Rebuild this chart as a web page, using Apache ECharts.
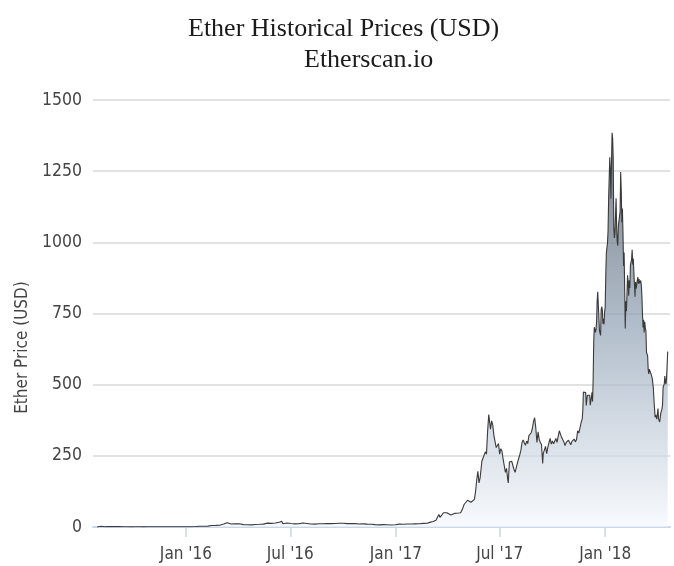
<!DOCTYPE html>
<html>
<head>
<meta charset="utf-8">
<script src="https://cdn.jsdelivr.net/npm/echarts@6/dist/echarts.min.js"></script>
<style>
html,body{margin:0;padding:0;background:#fff;}
#chart{width:674px;height:566px;}
</style>
</head>
<body>
<div id="chart"></div>
<script>
// ---- data ----
var titleText = 'Ether Historical Prices (USD)';
var subtitleText = 'Etherscan.io';
var yAxisName = 'Ether Price (USD)';
var yTicks = [0, 250, 500, 750, 1000, 1250, 1500];
var tickDates = ['2016-01-01', '2016-07-01', '2017-01-01', '2017-07-01', '2018-01-01'];
var tickLabels = ["Jan '16", "Jul '16", "Jan '17", "Jul '17", "Jan '18"];

var dates2015 = ['2015-07-30','2015-08-07','2015-08-09','2015-08-12','2015-08-17','2015-08-20','2015-08-24','2015-08-31','2015-09-07','2015-09-14','2015-09-21','2015-09-28','2015-10-05','2015-10-12','2015-10-19','2015-10-26','2015-11-02','2015-11-09','2015-11-16','2015-11-23','2015-11-30','2015-12-07','2015-12-14','2015-12-21','2015-12-28'];
var prices2015 = [0,2.77,0.75,1.07,1.58,1.44,1.24,1.35,1.26,0.95,0.90,0.59,0.62,0.63,0.48,0.86,1.00,0.99,0.94,0.97,0.87,0.82,0.91,0.86,0.85];

var dates2016 = ['2016-01-04','2016-01-11','2016-01-18','2016-01-25','2016-02-01','2016-02-08','2016-02-15','2016-02-22','2016-02-29','2016-03-07','2016-03-13','2016-03-20','2016-03-27','2016-04-03','2016-04-10','2016-04-17','2016-04-24','2016-05-01','2016-05-08','2016-05-15','2016-05-22','2016-05-29','2016-06-05','2016-06-12','2016-06-16','2016-06-18','2016-06-25','2016-07-02','2016-07-09','2016-07-16','2016-07-23','2016-07-30','2016-08-06','2016-08-13','2016-08-20','2016-08-27','2016-09-03','2016-09-10','2016-09-17','2016-09-24','2016-10-01','2016-10-08','2016-10-15','2016-10-22','2016-10-29','2016-11-05','2016-11-12','2016-11-19','2016-11-26','2016-12-03','2016-12-10','2016-12-17','2016-12-24','2016-12-31'];
var prices2016 = [0.95,1.07,1.5,2.4,2.4,3.2,5.2,5.6,6.4,10.5,15.1,10.5,11.0,11.4,8.4,8.1,7.5,8.7,9.4,10.2,13.5,12.6,13.9,16.7,20.6,11.3,13.9,12.1,10.9,11.3,14.2,12.5,10.8,10.0,11.2,11.5,11.9,12.0,12.5,13.0,13.2,12.0,11.9,11.9,10.8,11.0,10.0,9.7,8.5,7.6,8.2,7.8,7.2,8.0];

var dates2017a = ['2017-01-07','2017-01-14','2017-01-21','2017-01-28','2017-02-04','2017-02-11','2017-02-18','2017-02-25','2017-03-01','2017-03-04','2017-03-07','2017-03-10','2017-03-12','2017-03-14','2017-03-17','2017-03-19','2017-03-22','2017-03-25','2017-03-28','2017-03-31','2017-04-03','2017-04-07','2017-04-10','2017-04-14','2017-04-17','2017-04-20','2017-04-24','2017-04-27','2017-04-30','2017-05-03','2017-05-06','2017-05-09','2017-05-12','2017-05-15','2017-05-18','2017-05-20','2017-05-22','2017-05-24','2017-05-26','2017-05-28','2017-05-31','2017-06-03','2017-06-06','2017-06-08','2017-06-10','2017-06-12','2017-06-13','2017-06-15','2017-06-17','2017-06-19','2017-06-21','2017-06-23','2017-06-25','2017-06-27','2017-06-29'];
var prices2017a = [10.2,9.8,10.8,10.6,11.1,11.4,12.8,13.4,16.2,19.0,19.2,19.2,23.6,28.7,44,34,41.6,50,48,50,44,42.3,43.5,48,48,49,50,62,79,80,94,88,87,91,97,124,165,196,155,173,231,225,264,256,336,395,388,344,373,358,321,326,279,286,293];

var dates2017b = ['2017-07-01','2017-07-03','2017-07-05','2017-07-07','2017-07-09','2017-07-11','2017-07-13','2017-07-15','2017-07-16','2017-07-18','2017-07-20','2017-07-22','2017-07-24','2017-07-26','2017-07-28','2017-07-30','2017-08-01','2017-08-03','2017-08-05','2017-08-07','2017-08-09','2017-08-11','2017-08-13','2017-08-15','2017-08-17','2017-08-19','2017-08-21','2017-08-23','2017-08-25','2017-08-27','2017-08-29','2017-08-31','2017-09-01','2017-09-02','2017-09-04','2017-09-06','2017-09-08','2017-09-10','2017-09-12','2017-09-14','2017-09-15','2017-09-17','2017-09-19','2017-09-21','2017-09-23','2017-09-25','2017-09-27','2017-09-29','2017-10-01','2017-10-03','2017-10-05','2017-10-07','2017-10-09','2017-10-11','2017-10-13','2017-10-15','2017-10-17','2017-10-19','2017-10-21','2017-10-23','2017-10-25','2017-10-27','2017-10-29','2017-10-31','2017-11-02','2017-11-04','2017-11-06','2017-11-08','2017-11-10','2017-11-12','2017-11-14','2017-11-16','2017-11-18','2017-11-20','2017-11-22','2017-11-23','2017-11-24','2017-11-26','2017-11-27','2017-11-28','2017-11-29','2017-11-30'];
var prices2017b = [256,275,267,239,239,192,206,168,155,228,226,231,225,202,192,198,225,224,253,269,297,306,296,287,302,293,321,317,331,346,370,384,388,348,297,334,307,297,289,223,258,257,283,258,280,296,311,291,302,292,297,311,297,303,338,336,315,312,299,286,297,296,305,304,289,301,297,309,299,307,338,330,347,367,380,410,474,471,480,472,427,447];

var dates2017c = ['2017-12-01','2017-12-02','2017-12-03','2017-12-04','2017-12-05','2017-12-06','2017-12-07','2017-12-08','2017-12-09','2017-12-10','2017-12-11','2017-12-12','2017-12-13','2017-12-14','2017-12-15','2017-12-16','2017-12-17','2017-12-18','2017-12-19','2017-12-20','2017-12-21','2017-12-22','2017-12-23','2017-12-24','2017-12-25','2017-12-26','2017-12-27','2017-12-28','2017-12-29','2017-12-30','2017-12-31'];
var prices2017c = [463,463,466,470,463,428,434,456,473,441,515,651,702,696,684,694,720,794,826,820,822,690,697,673,763,774,763,714,731,712,756];

var dates2018 = ['2018-01-01','2018-01-02','2018-01-03','2018-01-04','2018-01-05','2018-01-06','2018-01-07','2018-01-08','2018-01-09','2018-01-10','2018-01-11','2018-01-12','2018-01-13','2018-01-14','2018-01-15','2018-01-16','2018-01-17','2018-01-18','2018-01-19','2018-01-20','2018-01-21','2018-01-22','2018-01-23','2018-01-24','2018-01-25','2018-01-26','2018-01-27','2018-01-28','2018-01-29','2018-01-30','2018-01-31','2018-02-01','2018-02-02','2018-02-03','2018-02-04','2018-02-05','2018-02-06','2018-02-07','2018-02-08','2018-02-09','2018-02-10','2018-02-11','2018-02-12','2018-02-13','2018-02-14','2018-02-15','2018-02-16','2018-02-17','2018-02-18','2018-02-19','2018-02-20','2018-02-21','2018-02-22','2018-02-23','2018-02-24','2018-02-25','2018-02-26','2018-02-27','2018-02-28','2018-03-01','2018-03-02','2018-03-03','2018-03-04','2018-03-05','2018-03-06','2018-03-07','2018-03-08','2018-03-09','2018-03-10','2018-03-11','2018-03-12','2018-03-13','2018-03-14','2018-03-15','2018-03-16','2018-03-17','2018-03-18','2018-03-19','2018-03-20','2018-03-21','2018-03-22','2018-03-23','2018-03-24','2018-03-25','2018-03-26','2018-03-27','2018-03-28','2018-03-29','2018-03-30','2018-03-31','2018-04-01','2018-04-02','2018-04-03','2018-04-04','2018-04-05','2018-04-06','2018-04-07','2018-04-08','2018-04-09','2018-04-10','2018-04-11','2018-04-12','2018-04-13','2018-04-14','2018-04-15','2018-04-16','2018-04-17','2018-04-18','2018-04-19','2018-04-20'];
var prices2018 = [772,884,962,980,997,1041,1153,1148,1299,1255,1154,1273,1385,1366,1292,1054,1015,1036,1039,1155,1050,1003,988,1059,1058,1057,1107,1247,1182,1071,1119,1036,917,964,835,697,793,758,817,884,861,812,867,840,921,928,939,974,922,943,895,853,809,861,837,841,866,878,855,871,856,856,866,850,813,749,701,728,683,721,698,690,614,613,601,552,538,554,558,561,537,540,523,522,487,448,445,386,394,396,379,385,416,380,382,369,385,401,398,414,430,492,493,502,530,511,502,524,567,616];

// ---- build ----
function toTime(s) { return new Date(s + 'T00:00:00').getTime(); }
var allDates = [].concat(dates2015, dates2016, dates2017a, dates2017b, dates2017c, dates2018);
var allPrices = [].concat(prices2015, prices2016, prices2017a, prices2017b, prices2017c, prices2018);
var seriesData = allDates.map(function (d, i) { return [toTime(d), allPrices[i]]; });
var tickTimes = tickDates.map(toTime);

var labelFont = '"DejaVu Sans Condensed", "DejaVu Sans", sans-serif';
var serifFont = 'Liberation Serif, Times New Roman, serif';

var chart = echarts.init(document.getElementById('chart'), null, { renderer: 'canvas' });
chart.setOption({
  animation: false,
  backgroundColor: '#ffffff',
  title: [
    { text: titleText, left: 183, top: 11,
      textStyle: { fontFamily: serifFont, fontSize: 26, fontWeight: 'normal', color: '#1a1a1a' } },
    { text: subtitleText, left: 299, top: 42,
      textStyle: { fontFamily: serifFont, fontSize: 26, fontWeight: 'normal', color: '#1a1a1a' } }
  ],
  grid: { left: 93, right: 4, top: 100, bottom: 39, containLabel: false },
  xAxis: {
    type: 'value',
    min: toTime('2015-07-23'),
    max: toTime('2018-04-24'),
    axisLine: { show: true, lineStyle: { color: '#ccd6eb', width: 2 } },
    axisTick: { show: true, length: 10, customValues: tickTimes, lineStyle: { color: '#ccd6eb', width: 1.5 } },
    axisLabel: {
      customValues: tickTimes,
      margin: 19,
      fontFamily: labelFont, fontSize: 17, color: '#444',
      formatter: function (v) {
        var i = tickTimes.indexOf(v);
        return i >= 0 ? tickLabels[i] : '';
      }
    },
    splitLine: { show: false }
  },
  yAxis: {
    type: 'value',
    min: yTicks[0],
    max: yTicks[yTicks.length - 1],
    interval: 250,
    name: yAxisName,
    nameLocation: 'middle',
    nameGap: 61,
    nameTextStyle: { fontFamily: labelFont, fontSize: 17, color: '#444', padding: [0, 68, 0, 0] },
    axisLine: { show: false },
    axisTick: { show: false },
    axisLabel: { margin: 11, fontFamily: labelFont, fontSize: 17.5, color: '#444',
      formatter: function (v) { return String(v); } },
    splitLine: { lineStyle: { color: '#d9d9d9', width: 1.5 } }
  },
  series: [{
    type: 'line',
    data: seriesData,
    showSymbol: false,
    symbol: 'none',
    lineStyle: { color: '#3a3a3a', width: 1.1 },
    areaStyle: {
      color: new echarts.graphic.LinearGradient(0, 0, 0, 1, [
        { offset: 0, color: 'rgb(64,75,88)' },
        { offset: 0.5, color: 'rgb(146,163,182)' },
        { offset: 1, color: 'rgb(244,248,253)' }
      ])
    }
  }]
});
</script>
</body>
</html>
